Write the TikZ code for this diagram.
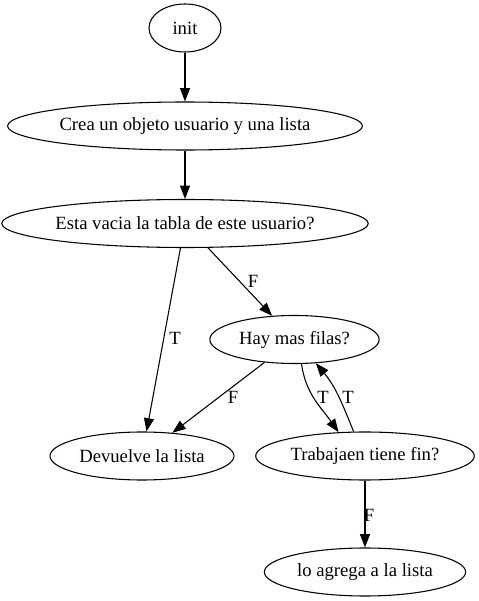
\documentclass[tikz,border=0pt]{standalone}
\usepackage{fontspec}
\setmainfont{Liberation Serif}
\newfontfamily\graphfont{Liberation Serif}
\usetikzlibrary{shapes.geometric}
\usetikzlibrary{arrows.meta}
\usetikzlibrary{calc}

\begin{document}
\begin{tikzpicture}[>={Triangle[length=10pt,width=7.5pt]}, x=0.75pt, y=0.75pt,
    line width=0.8pt, every node/.style={font=\graphfont\fontsize{14}{16}\selectfont},
    state/.style={draw, ellipse, inner sep=0pt, minimum height=36pt}]
      \useasboundingbox (0,0) rectangle (479,601);
      \coordinate (newcenter) at (185, 0);
      \coordinate (ydistance) at (0, 1);

      \node [state, name=init, minimum width=54pt] at ($(newcenter) + 573*(ydistance)$) {init};
      \node [state, name=crea, minimum width=264pt] at ($(newcenter) + 475*(ydistance)$)
      {Crea un objeto usuario y una lista};
      \node [state, name=esta, minimum width=271pt] at ($(newcenter) + 377.5*(ydistance)$)
      {Esta vacia la tabla de este usuario?};
      \node [state, name=hay, minimum width=127pt] at ($(newcenter) + 261.5*(ydistance) + (109.5, 0)$)
      {Hay mas filas?};
      \node [state, name=devuelve, minimum width=138pt] at ($(newcenter) + 145*(ydistance) + (-43, 0)$)
      {Devuelve la lista};
      \node [state, name=trab, minimum width=164pt] at ($(newcenter) + 145*(ydistance) + (180, 0)$)
      {Trabajaen tiene fin?};
      \node [state, name=agrega, minimum width=151pt] at ($(newcenter) + 29*(ydistance) + (180, 0)$)
      {lo agrega a la lista};

      \draw [->] (init) -- (crea);
      \draw [->] (crea) -- (esta);
      \draw [->] (esta) -- (devuelve);
      \draw [->] (esta) -- (hay);
      \draw [->] (hay) -- (devuelve);
      \draw [->] (hay.-74) to [out=-82, in=125] (trab.138);
      \draw [->] (trab.115) to [out=112, in=-50] (hay.-48);
      \draw [->] (trab) -- (agrega);

      \node [name=lblT1] at (175, 263) {T};
      \node [name=lblF1] at (253, 320) {F};
      \node [name=lblF2] at (233, 204) {F};
      \node [name=lblT2] at (323, 204) {T};
      \node [name=lblT3] at (348, 204) {T};
      \node [name=lblF3] at (369, 86) {F};
    \end{tikzpicture}
\end{document}
